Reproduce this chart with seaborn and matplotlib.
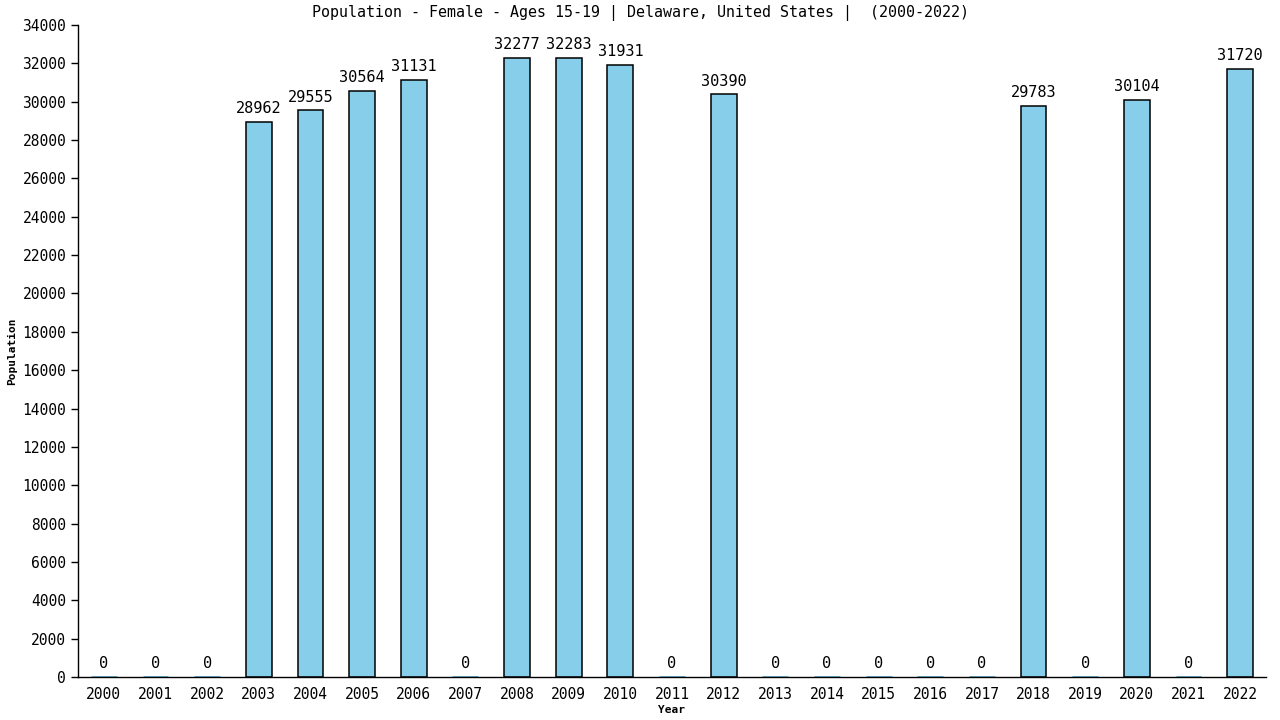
import matplotlib
matplotlib.use("Agg")
import matplotlib.pyplot as plt
import seaborn as sns
import pandas as pd

years = [str(y) for y in range(2000, 2023)]
population = [0, 0, 0, 28962, 29555, 30564, 31131, 0, 32277, 32283, 31931, 0,
              30390, 0, 0, 0, 0, 0, 29783, 0, 30104, 0, 31720]
title = "Population - Female - Ages 15-19 | Delaware, United States |  (2000-2022)"

sns.set_style("white")
plt.rcParams['font.family'] = ['DejaVu Sans Mono', 'DejaVu Sans']
plt.rcParams['text.color'] = 'black'
plt.rcParams['axes.labelcolor'] = 'black'
plt.rcParams['xtick.color'] = 'black'
plt.rcParams['ytick.color'] = 'black'

df = pd.DataFrame({"Year": years, "Population": population})

fig = plt.figure(figsize=(12.8, 7.2), dpi=100)
ax = fig.add_axes([78/1280, 43/720, (1266-78)/1280, (677-25)/720])

sns.barplot(data=df, x="Year", y="Population", color="#87CEEB", saturation=1,
            width=0.5, edgecolor="black", linewidth=1.1, ax=ax)

for patch, v in zip(ax.patches, population):
    if v == 0:
        patch.set_edgecolor("#5aa9cc")
        patch.set_linewidth(2)

for c in ax.containers:
    ax.bar_label(c, labels=[str(v) for v in population], padding=4, fontsize=11, color="black")

ax.set_ylim(0, 34000)
ax.set_xlim(-0.5, 22.5)
ax.set_yticks(range(0, 34001, 2000))
ax.tick_params(axis="y", which="both", left=True, length=5, width=1, labelsize=10.5, color="black")
ax.tick_params(axis="x", bottom=False, labelsize=10.5, pad=4)
sns.despine(ax=ax)
for s in ["left", "bottom"]:
    ax.spines[s].set_color("black")
    ax.spines[s].set_linewidth(1)

ax.set_xlabel("Year", fontsize=8, fontweight="bold", labelpad=2)
ax.set_ylabel("Population", fontsize=8, fontweight="bold", labelpad=4)
fig.text(0.5, 1 - 13/720, title, fontsize=10.8, ha="center", va="center", color="black")

fig.savefig("out.png", dpi=100)
